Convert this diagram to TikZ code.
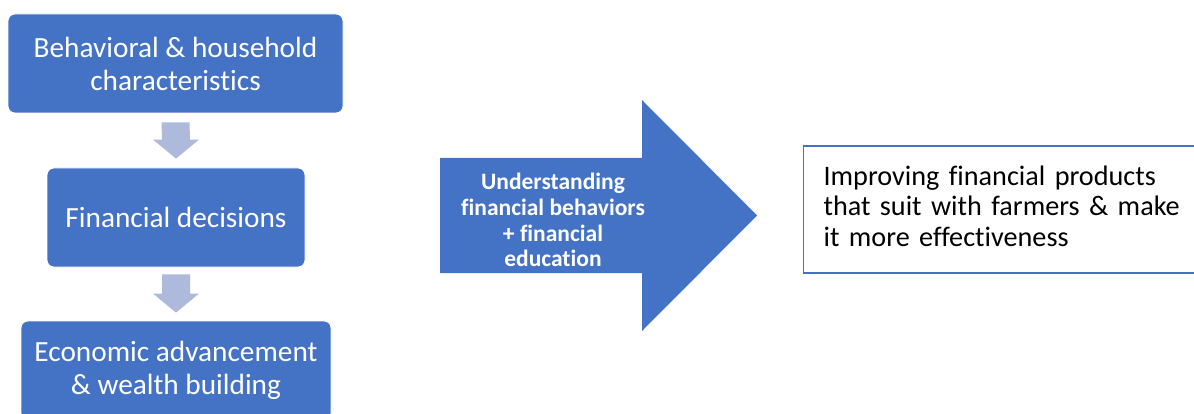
\documentclass[tikz,border=0pt]{standalone}
\usepackage{fontspec}
\setmainfont{Carlito}[Ligatures=CommonOff]
\usetikzlibrary{calc}
\definecolor{boxblue}{RGB}{68,114,196}
\definecolor{arrowblue}{RGB}{174,186,220}
\tikzset{
    stepbox/.style={rectangle,rounded corners=7pt,fill=boxblue,draw=white,line width=0.8pt,
        text=white,align=center,minimum height=99pt,inner sep=0pt,
        font=\fontsize{29.3}{33}\selectfont},
    downarrow/.style={fill=arrowblue},
    bigtext/.style={text=white,align=center,inner sep=0pt,font=\fontsize{23.5}{25.8}\selectfont\bfseries},
    outcome/.style={rectangle,draw=boxblue,line width=1.2pt,fill=white,text=black,align=left,
        text width=372pt,inner xsep=20pt,minimum height=127pt,
        font=\fontsize{28.2}{30.5}\selectfont},
}
\begin{document}
\begin{tikzpicture}[x=1pt,y=1pt]
    \useasboundingbox (0,0) rectangle (1194,413);
    \node[stepbox,minimum width=335pt] (behav) at (175.5,349.5) {Behavioral \& household\\characteristics};
    \node[stepbox,minimum width=258pt] (decis) at (176,195.5) {Financial decisions};
    \node[stepbox,minimum width=310pt] (wealth) at (176,42.5) {Economic advancement\\\& wealth building};
    \foreach \src/\dst/\ga/\gb in {behav/decis/9/9,decis/wealth/7/8} {
        \fill[downarrow]
        ($(\src.south)+(-14,-\ga)$) -- ($(\src.south)+(14,-\ga)$)
        -- ($(\dst.north)+(14,\gb+19)$) -- ($(\dst.north)+(23,\gb+19)$)
        -- ($(\dst.north)+(0,\gb)$)
        -- ($(\dst.north)+(-23,\gb+19)$) -- ($(\dst.north)+(-14,\gb+19)$)
        -- cycle
        ;
    }
    \fill[boxblue]
    (440,255) -- (642,255) -- (642,313) -- (757,197.5) -- (642,82) -- (642,140) -- (440,140) -- cycle
    ;
    \node[bigtext] (understand) at (553,193) {Understanding\\financial behaviors\\+ financial\\education};
    \node[outcome,anchor=west] (improve) at (803,203.5) {Improving financial products\\that suit with farmers \& make\\it more effectiveness\par\vspace{7pt}};
\end{tikzpicture}
\end{document}
